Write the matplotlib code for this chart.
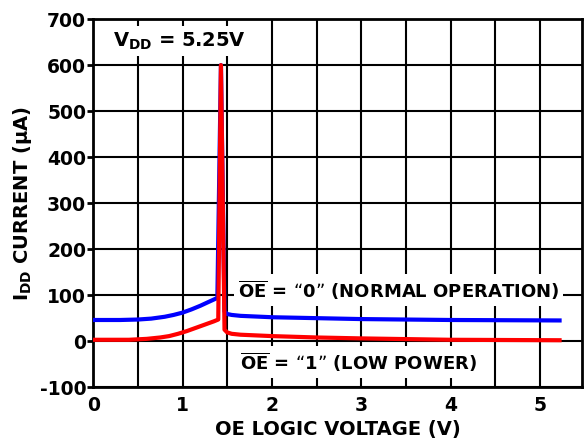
import matplotlib
matplotlib.use("Agg")
import matplotlib.pyplot as plt

plt.rcParams['font.family'] = 'DejaVu Sans'
plt.rcParams['font.weight'] = 'bold'
plt.rcParams['mathtext.fontset'] = 'dejavusans'
plt.rcParams['axes.unicode_minus'] = False

# OE = "0" (normal operation)
x_norm = [0, 0.3, 0.5, 0.65, 0.8, 0.9, 1.0, 1.1, 1.2, 1.3, 1.39, 1.43, 1.47, 1.5, 1.55, 1.65, 2.0, 2.5, 3.0, 4.0, 5.22]
y_norm = [46, 46, 47, 49, 53, 57, 62, 69, 77, 86, 94, 600, 65, 59, 57, 55, 52, 50, 48, 46, 45]

# OE = "1" (low power)
x_low = [0, 0.4, 0.6, 0.75, 0.85, 0.95, 1.05, 1.15, 1.25, 1.35, 1.40, 1.43, 1.47, 1.5, 1.55, 1.65, 2.0, 2.5, 3.0, 4.0, 5.22]
y_low = [3, 3, 5, 8, 11, 16, 22, 29, 36, 43, 47, 600, 25, 19, 16, 14, 11, 8, 6, 3, 2]

xticks = [0, 1, 2, 3, 4, 5]
yticks = [-100, 0, 100, 200, 300, 400, 500, 600, 700]

fig = plt.figure(figsize=(5.86, 4.44), dpi=100)
ax = fig.add_axes([0.159, 0.128, 0.834, 0.829])

ax.plot(x_norm, y_norm, color='#0000ff', lw=3.0, solid_joinstyle='round', zorder=3)
ax.plot(x_low, y_low, color='#ff0000', lw=3.0, solid_joinstyle='round', zorder=4)

ax.set_xlim(0, 5.47)
ax.set_ylim(-100, 700)
ax.set_xticks(xticks)
ax.set_xticks([0.5, 1.5, 2.5, 3.5, 4.5], minor=True)
ax.set_yticks(yticks)
ax.grid(True, which='both', color='black', lw=1.5, zorder=1)
ax.set_axisbelow(True)
for s in ax.spines.values():
    s.set_linewidth(2)
ax.tick_params(axis='x', which='both', length=0, labelsize=13.5, pad=6)
ax.tick_params(axis='y', length=4, width=2, labelsize=13.5, pad=1)

ax.set_xlabel('OE LOGIC VOLTAGE (V)', fontsize=14, fontweight='bold', labelpad=4)
ax.set_ylabel(r'$\mathbf{I}_{\mathbf{DD}}$ CURRENT (µA)', fontsize=14, fontweight='bold', labelpad=4)

box = dict(facecolor='white', edgecolor='none', pad=3)
ax.text(0.22, 652, r'$\mathbf{V}_{\mathbf{DD}}$ = 5.25V', fontsize=14, va='center', bbox=box, zorder=5)
ax.text(1.62, 111, r'$\mathbf{\overline{OE}}$ = “0” (NORMAL OPERATION)', fontsize=13,
        va='center', bbox=box, zorder=5)
ax.text(1.64, -46, r'$\mathbf{\overline{OE}}$ = “1” (LOW POWER)', fontsize=13,
        va='center', bbox=box, zorder=5)

fig.savefig('out.png', dpi=100)
